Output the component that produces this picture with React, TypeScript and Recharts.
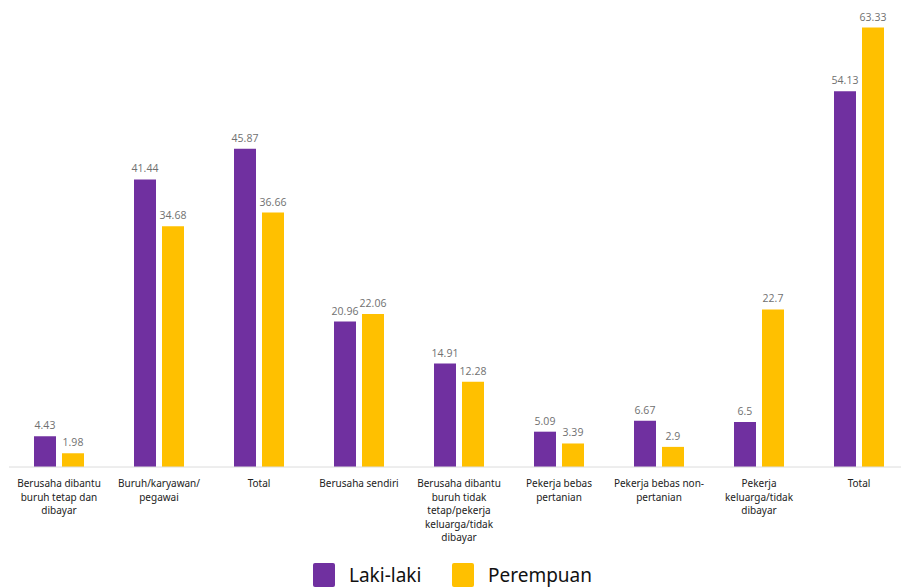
import React from 'react';
import { BarChart, Bar, XAxis, YAxis, LabelList } from 'recharts';

// categories (line breaks as in the original axis labels)
const categories = [
    'Berusaha dibantu\nburuh tetap dan\ndibayar',
    'Buruh/karyawan/\npegawai',
    'Total',
    'Berusaha sendiri',
    'Berusaha dibantu\nburuh tidak\ntetap/pekerja\nkeluarga/tidak\ndibayar',
    'Pekerja bebas\npertanian',
    'Pekerja bebas non-\npertanian',
    'Pekerja\nkeluarga/tidak\ndibayar',
    'Total',
];

const lakiLaki = [4.43, 41.44, 45.87, 20.96, 14.91, 5.09, 6.67, 6.5, 54.13];
const perempuan = [1.98, 34.68, 36.66, 22.06, 12.28, 3.39, 2.9, 22.7, 63.33];

const PURPLE = '#7030A0';
const YELLOW = '#FFC000';

const data = categories.map((c, i) => ({
    key: `c${i}`,
    label: c,
    laki: lakiLaki[i],
    perempuan: perempuan[i],
}));

const CategoryTick = (props: any) => {
    const { x, y, payload } = props;
    const lines = String(data[payload.index]?.label ?? '').split('\n');
    return (
        <text x={x} y={y + 20} textAnchor="middle" fill="#222" fontSize={10} fontFamily="'Noto Sans', sans-serif">
            {lines.map((ln, i) => (
                <tspan key={i} x={x} dy={i === 0 ? 0 : 13.5}>{ln}</tspan>
            ))}
        </text>
    );
};

const LegendItem: React.FC<{ color: string; text: string; left: number }> = ({ color, text, left }) => (
    <div style={{ position: 'absolute', left, top: 0, display: 'flex', alignItems: 'center' }}>
        <div style={{ width: 22, height: 24, background: color, borderRadius: 2, marginRight: 14 }} />
        <span style={{ fontSize: 19, color: '#111', whiteSpace: 'nowrap' }}>{text}</span>
    </div>
);

export default function App() {
    return (
        <div style={{ position: 'absolute', left: 0, top: 0, width: 901, height: 588, overflow: 'hidden', background: '#fff', fontFamily: "'Noto Sans', sans-serif" }}>
            <BarChart
                width={910}
                height={588}
                data={data}
                margin={{ top: 9, right: 1, left: 9, bottom: 0 }}
                barSize={22}
                barGap={6}
                barCategoryGap={0}
            >
                <XAxis
                    dataKey="key"
                    height={121}
                    tickSize={0}
                    tickMargin={0}
                    tickLine={false}
                    axisLine={{ stroke: '#dcdcdc' }}
                    interval={0}
                    tick={<CategoryTick />}
                />
                <YAxis hide domain={[0, 66]} />
                <Bar dataKey="laki" fill={PURPLE} isAnimationActive={false}>
                    <LabelList dataKey="laki" position="top" offset={7} fill="#707070" fontSize={10.5} fontFamily="'Open Sans', sans-serif" />
                </Bar>
                <Bar dataKey="perempuan" fill={YELLOW} isAnimationActive={false}>
                    <LabelList dataKey="perempuan" position="top" offset={7} fill="#707070" fontSize={10.5} fontFamily="'Open Sans', sans-serif" />
                </Bar>
            </BarChart>
            <div style={{ position: 'absolute', top: 562, left: 0, width: 901, height: 26 }}>
                <LegendItem color={PURPLE} text="Laki-laki" left={313} />
                <LegendItem color={YELLOW} text="Perempuan" left={452} />
            </div>
        </div>
    );
}
